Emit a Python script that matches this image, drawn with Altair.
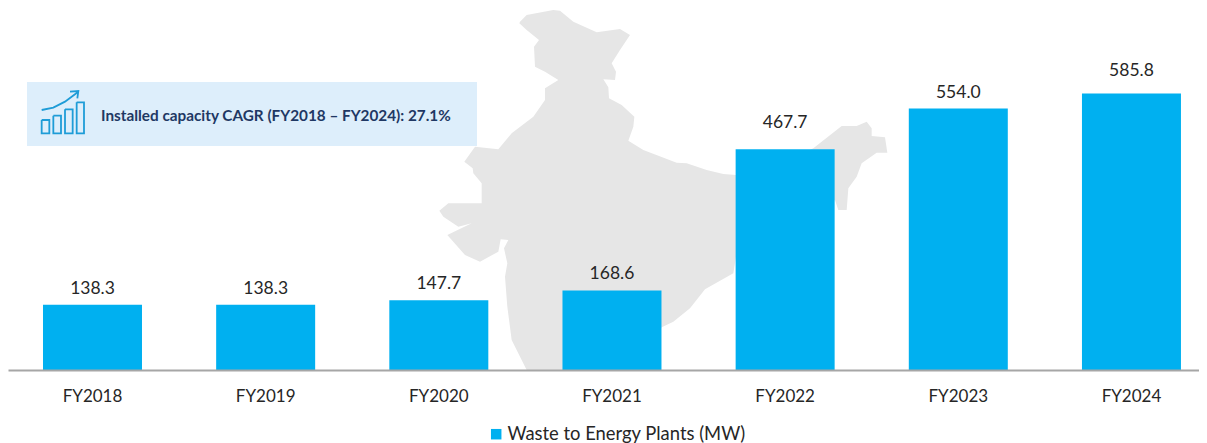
import altair as alt
import pandas as pd

years = ["FY2018", "FY2019", "FY2020", "FY2021", "FY2022", "FY2023", "FY2024"]
capacity = [138.3, 138.3, 147.7, 168.6, 467.7, 554.0, 585.8]
series_name = "Waste to Energy Plants (MW)"
callout_text = "Installed capacity CAGR (FY2018 – FY2024): 27.1%"

FONT = "Lato"
BLUE = "#00B0F0"

# outline of the backdrop map (3x crop units)
map_x = [270,290,370,390,430,500,570,600,570,545,558,555,520,535,537,575,613,610,595,640,740,770,830,880,918,1000,
         1150,1235,1280,1310,1325,1325,1365,1372,1340,1295,1280,1255,1250,1225,1215,1000,918,910,825,780,730,695,
         600,585,560,555,385,370,330,290,245,232,225,232,222,235,212,205,150,105,52,125,85,40,28,55,155,155,130,
         128,103,135,205,245,310,345,345,385,345,315,312,327,290,268]
map_y = [65,45,30,32,65,97,87,105,150,190,215,240,238,262,295,315,350,380,422,450,488,490,510,522,525,525,
         445,378,378,365,385,408,412,458,458,490,530,565,630,630,600,700,770,820,868,925,965,982,
         1100,1130,1230,1329,1329,1300,1220,1110,1020,920,830,790,745,720,718,755,785,765,705,670,680,650,632,610,610,550,520,
         505,485,440,448,400,350,300,265,240,215,200,140,120,90,70]
map_ring = [[430 + x / 3 - 8, y / 3 - 8] for x, y in zip(map_x, map_y)]
map_ring.append(map_ring[0])

# small chart icon in the callout (3x crop units)
icon_paths = [
    [[65,135],[88,135],[88,175],[65,175],[65,135]],
    [[100,122],[123,122],[123,175],[100,175],[100,122]],
    [[135,103],[158,103],[158,175],[135,175],[135,103]],
    [[170,82],[192,82],[192,175],[170,175],[170,82]],
    [[65,105],[100,98],[135,80],[175,50]],
    [[150,50],[175,48],[172,70]],
]
icon_lines = [[[20 + x / 3 - 8, 75 + y / 3 - 8] for x, y in p] for p in icon_paths]

identity = dict(type="identity", scale=1, translate=[0, 0])

map_layer = alt.Chart(alt.InlineData(values=[{
    "type": "Feature", "properties": {},
    "geometry": {"type": "Polygon", "coordinates": [map_ring]}}],
    format=alt.DataFormat(type="json"))).mark_geoshape(
    fill="#E6E6E6", strokeWidth=0).project(**identity)

icon_layer = alt.Chart(alt.InlineData(values=[{
    "type": "Feature", "properties": {},
    "geometry": {"type": "MultiLineString", "coordinates": icon_lines}}],
    format=alt.DataFormat(type="json"))).mark_geoshape(
    filled=False, stroke="#1E9CD7", strokeWidth=1.8).project(**identity)

df = pd.DataFrame({"year": years, "capacity": capacity, "series": series_name})

x = alt.X("year:N", sort=None, title=None,
          scale=alt.Scale(paddingInner=0.428, paddingOuter=0.153, align=0.66),
          axis=alt.Axis(labelAngle=0, ticks=False, grid=False, domainColor="#A6A6A6", domainWidth=2,
                        labelFont=FONT, labelFontSize=17, labelColor="#262626",
                        labelPadding=18, zindex=1))
y = alt.Y("capacity:Q", scale=alt.Scale(domain=[0, 767], nice=False), axis=None)

bars = alt.Chart(df).mark_bar(size=99).encode(
    x=x, y=y,
    color=alt.Color("series:N", title=None,
                    scale=alt.Scale(range=[BLUE]),
                    legend=alt.Legend(orient="none", legendX=479, legendY=417, symbolType="square",
                                      symbolSize=110, symbolStrokeWidth=0, labelFont=FONT, labelFontSize=18.4,
                                      labelColor="#262626", labelLimit=400, padding=0,
                                      labelOffset=2)))

# the FY2022 and FY2024 labels sit higher above their bars than the others
def label_layer(rows, dy):
    return alt.Chart(df[df["year"].isin(rows)]).mark_text(
        baseline="bottom", align="center", dy=dy, font=FONT, fontSize=17.5, color="#262626"
    ).encode(x=x, y=y, text=alt.Text("capacity:Q", format=".1f"))

labels_near = label_layer(["FY2018", "FY2019", "FY2020", "FY2021", "FY2023"], -7)
labels_mid = label_layer(["FY2024"], -14)
labels_far = label_layer(["FY2022"], -17)

callout_df = pd.DataFrame({"label": [callout_text]})
callout_box = alt.Chart(callout_df).mark_rect(color="#DDEEFB").encode(
    x=alt.value(19), x2=alt.value(469), y=alt.value(74), y2=alt.value(138))
callout_label = alt.Chart(callout_df).mark_text(align="left", baseline="middle", font=FONT, fontSize=15.3,
                                                fontWeight="bold", color="#1F3864").encode(
    x=alt.value(93), y=alt.value(108), text="label:N")

chart = alt.layer(map_layer, callout_box, icon_layer, callout_label, bars,
                  labels_near, labels_mid, labels_far).properties(
    width=1191, height=362,
    padding={"left": 0, "top": 0, "right": 0, "bottom": 73},
    autosize=alt.AutoSizeParams(type="none"),
).configure_view(stroke=None)

chart.save("out.html", embed_options={"renderer": "svg", "actions": False})
